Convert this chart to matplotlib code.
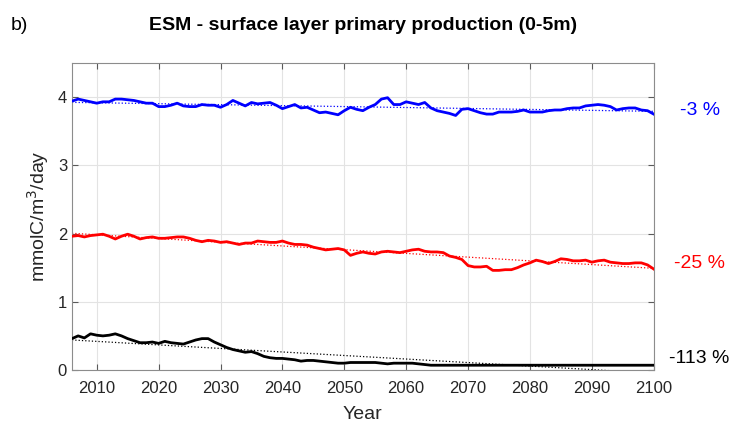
import numpy as np
import matplotlib
matplotlib.use("Agg")
import matplotlib.pyplot as plt
import matplotlib.transforms as mtransforms

plt.rcParams['font.family'] = ['Liberation Sans', 'DejaVu Sans']

years = np.arange(2006, 2101)

# surface layer primary production, mmolC/m3/day (annual)
blue_pp = [3.94, 3.97, 3.95, 3.93,                                      # 2006-2009
           3.91, 3.93, 3.93, 3.97, 3.97, 3.96, 3.95, 3.93, 3.91, 3.91,  # 2010s
           3.86, 3.86, 3.88, 3.91, 3.87, 3.86, 3.86, 3.89, 3.88, 3.88,  # 2020s
           3.85, 3.89, 3.95, 3.91, 3.87, 3.92, 3.90, 3.91, 3.92, 3.88,  # 2030s
           3.83, 3.86, 3.89, 3.84, 3.85, 3.81, 3.77, 3.78, 3.76, 3.74,  # 2040s
           3.80, 3.85, 3.82, 3.80, 3.85, 3.89, 3.97, 3.99, 3.89, 3.89,  # 2050s
           3.93, 3.91, 3.89, 3.92, 3.84, 3.80, 3.78, 3.76, 3.73, 3.82,  # 2060s
           3.83, 3.80, 3.77, 3.75, 3.75, 3.78, 3.78, 3.78, 3.79, 3.81,  # 2070s
           3.78, 3.78, 3.78, 3.80, 3.81, 3.81, 3.83, 3.84, 3.84, 3.87,  # 2080s
           3.88, 3.89, 3.88, 3.86, 3.81, 3.83, 3.84, 3.84, 3.81, 3.80,  # 2090s
           3.75]
red_pp = [1.96, 1.97, 1.95, 1.97,
          1.98, 1.99, 1.96, 1.92, 1.96, 1.99, 1.96, 1.92, 1.94, 1.95,
          1.93, 1.93, 1.94, 1.95, 1.95, 1.93, 1.90, 1.88, 1.90, 1.89,
          1.87, 1.88, 1.86, 1.84, 1.86, 1.86, 1.89, 1.88, 1.87, 1.87,
          1.89, 1.86, 1.84, 1.84, 1.83, 1.80, 1.78, 1.76, 1.77, 1.78,
          1.76, 1.68, 1.71, 1.73, 1.71, 1.70, 1.73, 1.74, 1.73, 1.72,
          1.74, 1.76, 1.77, 1.74, 1.73, 1.73, 1.72, 1.67, 1.65, 1.62,
          1.53, 1.51, 1.51, 1.52, 1.46, 1.46, 1.47, 1.47, 1.50, 1.54,
          1.57, 1.61, 1.59, 1.56, 1.59, 1.63, 1.62, 1.60, 1.60, 1.61,
          1.58, 1.60, 1.61, 1.58, 1.57, 1.56, 1.56, 1.57, 1.57, 1.54,
          1.48]
black_pp = [0.46, 0.50, 0.47, 0.53,
            0.51, 0.50, 0.51, 0.53, 0.50, 0.46, 0.43, 0.40, 0.40, 0.41,
            0.39, 0.42, 0.40, 0.39, 0.38, 0.41, 0.44, 0.46, 0.46, 0.41,
            0.37, 0.33, 0.30, 0.28, 0.26, 0.27, 0.24, 0.20, 0.18, 0.17,
            0.17, 0.16, 0.15, 0.13, 0.14, 0.14, 0.13, 0.12, 0.11, 0.10,
            0.10, 0.11, 0.11, 0.11, 0.11, 0.11, 0.10, 0.09, 0.10, 0.10,
            0.10, 0.10, 0.09, 0.08, 0.07, 0.07, 0.07, 0.07, 0.07, 0.07,
            0.07, 0.07, 0.07, 0.07, 0.07, 0.07, 0.07, 0.07, 0.07, 0.07,
            0.07, 0.07, 0.07, 0.07, 0.07, 0.07, 0.07, 0.07, 0.07, 0.07,
            0.07, 0.07, 0.07, 0.07, 0.07, 0.07, 0.07, 0.07, 0.07, 0.07,
            0.07]

series = [(blue_pp, 'blue', '-3 %', 3.80),
          (red_pp, 'red', '-25 %', 1.56),
          (black_pp, 'black', '-113 %', 0.17)]

fig = plt.figure(figsize=(7.42, 4.28), dpi=100)
ax = fig.add_axes([0.097, 0.1355, 0.784, 0.7175])

lab_tr = mtransforms.blended_transform_factory(ax.transAxes, ax.transData)
for vals, col, pct, ylab in series:
    vals = np.array(vals)
    ax.plot(years, vals, color=col, lw=2.0, zorder=3)
    fit = np.polyval(np.polyfit(years, vals, 1), years)
    ax.plot(years, fit, color=col, lw=0.9, ls=':', zorder=2)
    ax.text(1.079, ylab, pct, color=col, fontsize=14, ha='center', va='center',
            transform=lab_tr, clip_on=False)

ax.set_xlim(2006, 2100)
ax.set_ylim(0, 4.5)
ax.set_xticks(np.arange(2010, 2101, 10))
ax.set_yticks([0, 1, 2, 3, 4])
ax.grid(True, color='#e3e3e3', lw=0.8)
ax.set_axisbelow(True)
for s in ax.spines.values():
    s.set_color('#8c8c8c')
    s.set_linewidth(0.8)
ax.tick_params(direction='in', length=4, width=0.8, color='#5a5a5a',
               labelsize=12, labelcolor='#262626', top=True, right=True)
ax.tick_params(axis='x', pad=8)
ax.set_xlabel('Year', fontsize=14, color='#262626', labelpad=7)
ax.set_ylabel('mmolC/m$^3$/day', fontsize=14, color='#262626', labelpad=5)

ax.set_title('ESM - surface layer primary production (0-5m)', fontsize=14,
             fontweight='bold', pad=24)
fig.text(0.014, 0.94, 'b)', fontsize=14, ha='left', va='center')

fig.savefig('out.png', dpi=100)
